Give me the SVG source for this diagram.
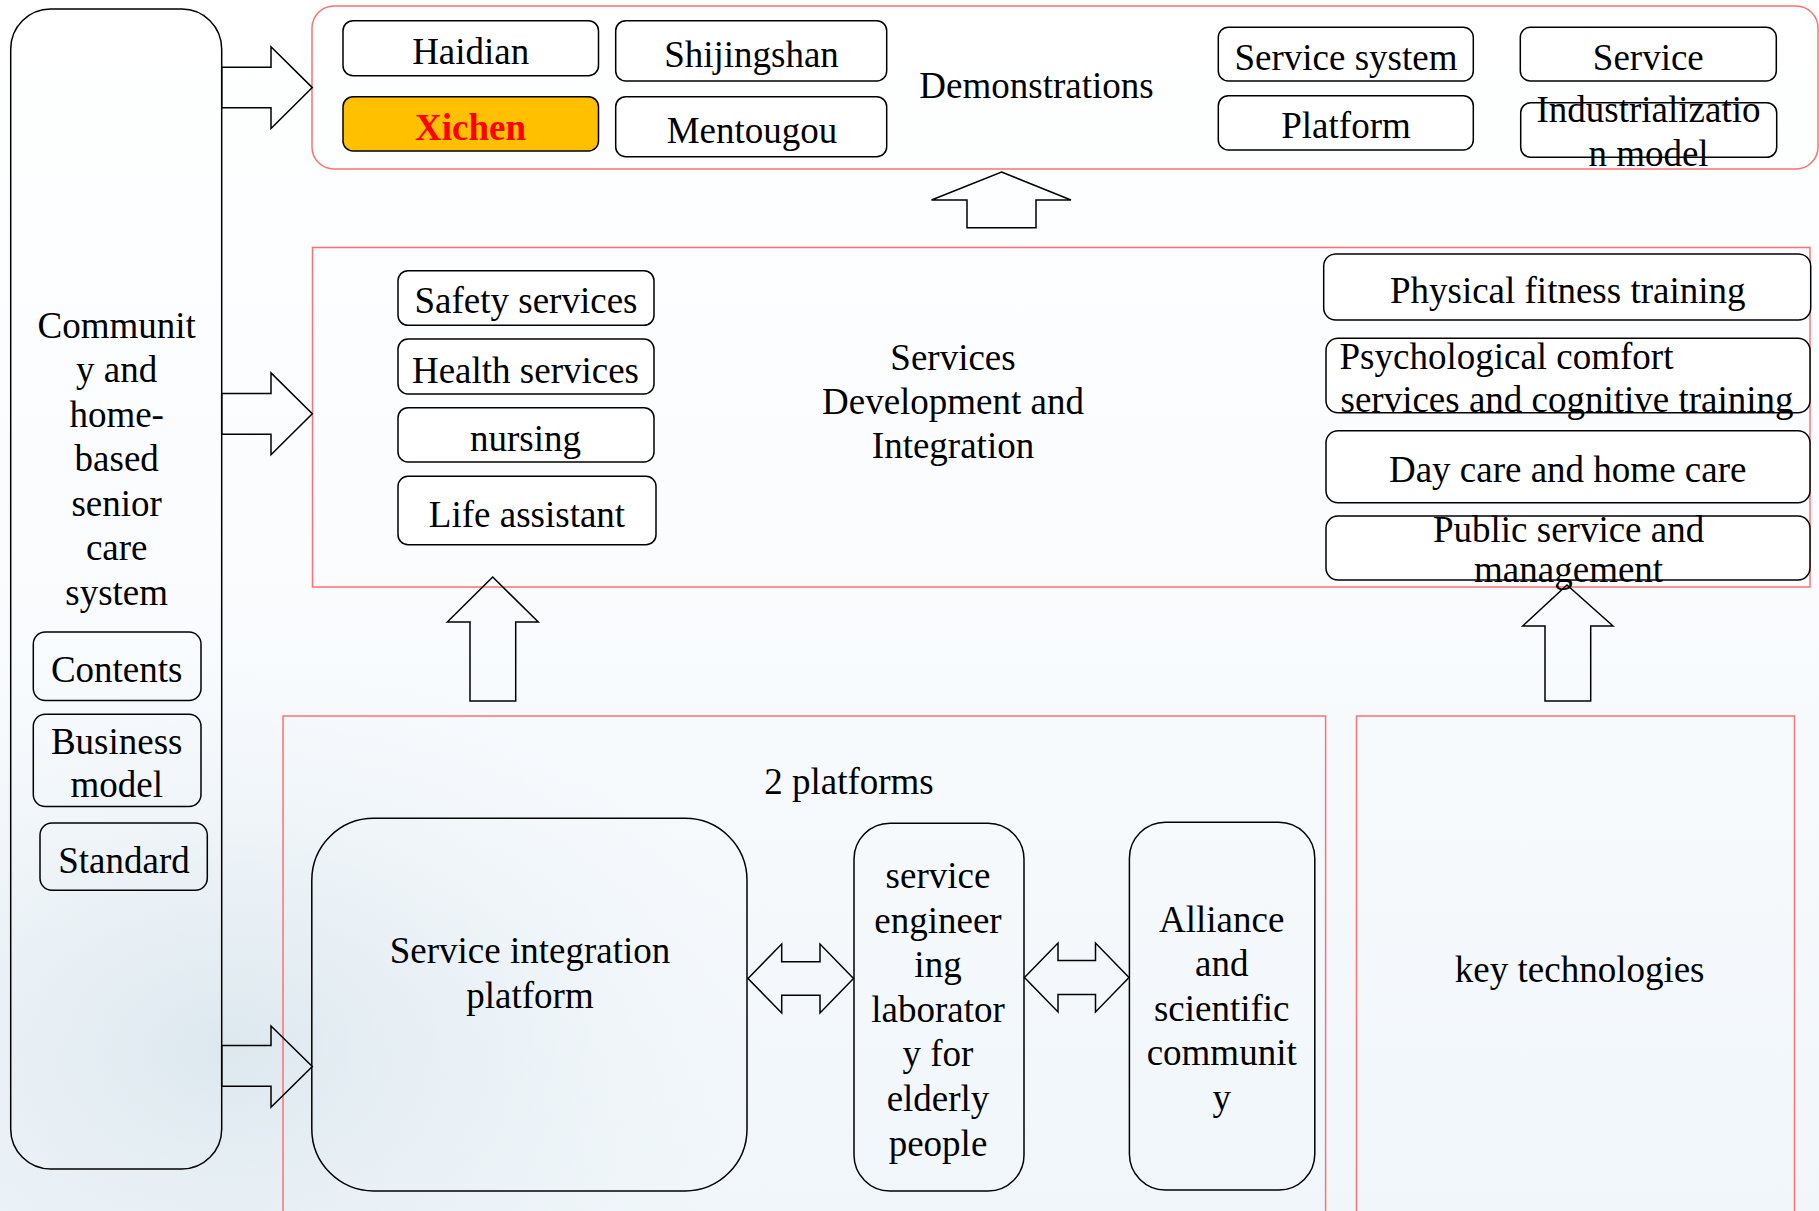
<svg xmlns="http://www.w3.org/2000/svg" width="1819" height="1211" viewBox="0 0 1819 1211">
<defs>
<linearGradient id="bg" x1="0" y1="0" x2="0" y2="1">
<stop offset="0" stop-color="#ffffff"/>
<stop offset="0.45" stop-color="#fafcfe"/>
<stop offset="1" stop-color="#f0f6fa"/>
</linearGradient>
<radialGradient id="photo" cx="0.25" cy="0.75" r="0.6">
<stop offset="0" stop-color="#dae6ed" stop-opacity="0.9"/>
<stop offset="1" stop-color="#e8f0f5" stop-opacity="0"/>
</radialGradient>
<style>
.t{font-family:"Liberation Serif","Times New Roman",serif;font-size:37px;fill:#000;text-anchor:middle;transform:translate(0px,1.5px)}
.ts{text-anchor:start}
.box{fill:none;stroke:#000;stroke-width:1.5}
.wbox{fill:#fff;stroke:#000;stroke-width:1.5}
.red{fill:none;stroke:#ff7070;stroke-width:1.5}
.arr{fill:none;stroke:#000;stroke-width:1.5;stroke-linejoin:miter}
</style>
</defs>
<rect x="0" y="0" width="1819" height="1211" fill="url(#bg)"/>
<rect x="0" y="560" width="900" height="651" fill="url(#photo)"/>

<!-- containers -->
<g id="demonstrations">
<rect class="red" x="312" y="6" width="1506" height="163" rx="22"/>
<text class="t" x="1036.5" y="96">Demonstrations</text>
</g>
<g id="services-dev">
<rect class="red" x="312.5" y="247.5" width="1497.5" height="339.5"/>
<text class="t" x="953" y="368">Services</text>
<text class="t" x="953" y="412">Development and</text>
<text class="t" x="953" y="456">Integration</text>
</g>
<g id="platforms">
<rect class="red" x="283" y="716" width="1042.6" height="520"/>
<text class="t" x="849" y="792">2 platforms</text>
</g>
<g id="key-tech">
<rect class="red" x="1356.5" y="716" width="438" height="520"/>
<text class="t" x="1579.7" y="980">key technologies</text>
</g>

<!-- left column -->
<g id="community">
<rect class="box" x="10.7" y="9" width="211" height="1160" rx="40"/>
<text class="t" x="116.7" y="336">Communit</text>
<text class="t" x="116.7" y="380.5">y and</text>
<text class="t" x="116.7" y="425">home-</text>
<text class="t" x="116.7" y="469.5">based</text>
<text class="t" x="116.7" y="514">senior</text>
<text class="t" x="116.7" y="558.5">care</text>
<text class="t" x="116.7" y="603">system</text>
</g>
<g id="contents">
<rect class="box" x="33.3" y="632" width="167.7" height="68.5" rx="12"/>
<text class="t" x="116.7" y="680.5">Contents</text>
</g>
<g id="business-model">
<rect class="box" x="33.3" y="714.2" width="167.7" height="92.3" rx="12"/>
<text class="t" x="116.7" y="752">Business</text>
<text class="t" x="116.7" y="795">model</text>
</g>
<g id="standard">
<rect class="box" x="40" y="823" width="167.3" height="67.3" rx="12"/>
<text class="t" x="124" y="871">Standard</text>
</g>

<!-- demonstrations items -->
<g id="haidian">
<rect class="wbox" x="343" y="20.7" width="255.5" height="55" rx="10"/>
<text class="t" x="470.7" y="62.3">Haidian</text>
</g>
<g id="shijingshan">
<rect class="wbox" x="615.7" y="20.7" width="271" height="60.3" rx="10"/>
<text class="t" x="751.5" y="65">Shijingshan</text>
</g>
<g id="xichen">
<rect x="343" y="96.7" width="255.5" height="54.3" rx="10" fill="#ffc000" stroke="#000" stroke-width="1.5"/>
<text class="t" x="470.5" y="138.3" style="fill:#ff0000;font-weight:bold">Xichen</text>
</g>
<g id="mentougou">
<rect class="wbox" x="615.7" y="96.7" width="271" height="60" rx="10"/>
<text class="t" x="752" y="141.7">Mentougou</text>
</g>
<g id="service-system">
<rect class="wbox" x="1218.3" y="27.3" width="255" height="53.7" rx="10"/>
<text class="t" x="1346" y="68.3">Service system</text>
</g>
<g id="platform">
<rect class="wbox" x="1218.3" y="95.7" width="255" height="54.3" rx="10"/>
<text class="t" x="1346" y="136.7">Platform</text>
</g>
<g id="service">
<rect class="wbox" x="1520.3" y="27.3" width="256" height="53.7" rx="10"/>
<text class="t" x="1648.3" y="68.3">Service</text>
</g>
<g id="industrialization">
<rect class="wbox" x="1520.7" y="102.7" width="256" height="54.6" rx="10"/>
<text class="t" x="1648.5" y="120.7">Industrializatio</text>
<text class="t" x="1648.5" y="164.3">n model</text>
</g>

<!-- services items -->
<g id="safety">
<rect class="wbox" x="398" y="270.7" width="256" height="54.6" rx="10"/>
<text class="t" x="526" y="311.7">Safety services</text>
</g>
<g id="health">
<rect class="wbox" x="398" y="339" width="256" height="55" rx="10"/>
<text class="t" x="525.5" y="381.7">Health services</text>
</g>
<g id="nursing">
<rect class="wbox" x="398" y="407.7" width="256" height="54.3" rx="10"/>
<text class="t" x="525.5" y="449.3">nursing</text>
</g>
<g id="life-assistant">
<rect class="wbox" x="398" y="476.3" width="258" height="68.4" rx="10"/>
<text class="t" x="527" y="525">Life assistant</text>
</g>
<g id="physical">
<rect class="wbox" x="1323.7" y="254" width="487" height="66" rx="12"/>
<text class="t" x="1567.7" y="301.7">Physical fitness training</text>
</g>
<g id="psychological">
<rect class="wbox" x="1326" y="338.3" width="484" height="74.4" rx="12"/>
<text class="t ts" x="1339.5" y="367.7">Psychological comfort</text>
<text class="t ts" x="1340.5" y="410.7">services and cognitive training</text>
</g>
<g id="day-care">
<rect class="wbox" x="1326" y="430.7" width="484" height="72" rx="12"/>
<text class="t" x="1567.7" y="480.7">Day care and home care</text>
</g>
<g id="public-service">
<rect class="wbox" x="1326" y="516" width="484" height="64" rx="12"/>
<text class="t" x="1568.6" y="540">Public service and</text>
<text class="t" x="1568.6" y="580.7">management</text>
</g>

<!-- platforms items -->
<g id="service-integration">
<rect class="box" x="311.8" y="818.3" width="435.2" height="372.7" rx="62"/>
<text class="t" x="530" y="961">Service integration</text>
<text class="t" x="530" y="1006">platform</text>
</g>
<g id="engineering-lab">
<rect class="box" x="854" y="823.3" width="170" height="367.7" rx="36"/>
<text class="t" x="938" y="886.5">service</text>
<text class="t" x="938" y="931.1">engineer</text>
<text class="t" x="938" y="975.7">ing</text>
<text class="t" x="938" y="1020.3">laborator</text>
<text class="t" x="938" y="1064.9">y for</text>
<text class="t" x="938" y="1109.5">elderly</text>
<text class="t" x="938" y="1154.1">people</text>
</g>
<g id="alliance">
<rect class="box" x="1129.4" y="822.3" width="185.4" height="367.7" rx="36"/>
<text class="t" x="1221.7" y="930">Alliance</text>
<text class="t" x="1221.7" y="974.6">and</text>
<text class="t" x="1221.7" y="1019.2">scientific</text>
<text class="t" x="1221.7" y="1063.8">communit</text>
<text class="t" x="1221.7" y="1108.4">y</text>
</g>

<!-- connectors -->
<g id="connectors">
<polygon class="arr" points="221.7,67.2 271,67.2 271,46.7 312.3,87.6 271,128.5 271,107.8 221.7,107.8"/>
<polygon class="arr" points="221.7,393.4 271,393.4 271,372.9 312.3,413.8 271,454.7 271,434.2 221.7,434.2"/>
<polygon class="arr" points="221.7,1045.5 271,1045.5 271,1026 312.3,1066.5 271,1107.2 271,1086.3 221.7,1086.3"/>
<polygon class="arr" points="1001.5,172 1071,200 1036,200 1036,227.7 967,227.7 967,200 931.5,200"/>
<polygon class="arr" points="492.7,577 538.3,622 515.7,622 515.7,701 470,701 470,622 447.3,622"/>
<polygon class="arr" points="1567,585 1613,626 1590.7,626 1590.7,701 1545,701 1545,626 1522.7,626"/>
<polygon class="arr" points="748,978.5 781.7,944 781.7,961.8 820,961.8 820,944 853.5,978.5 820,1013 820,995.2 781.7,995.2 781.7,1013"/>
<polygon class="arr" points="1024.5,977.5 1058,943 1058,960.5 1095.5,960.5 1095.5,943 1129,977.5 1095.5,1012 1095.5,994.5 1058,994.5 1058,1012"/>
</g>
</svg>
